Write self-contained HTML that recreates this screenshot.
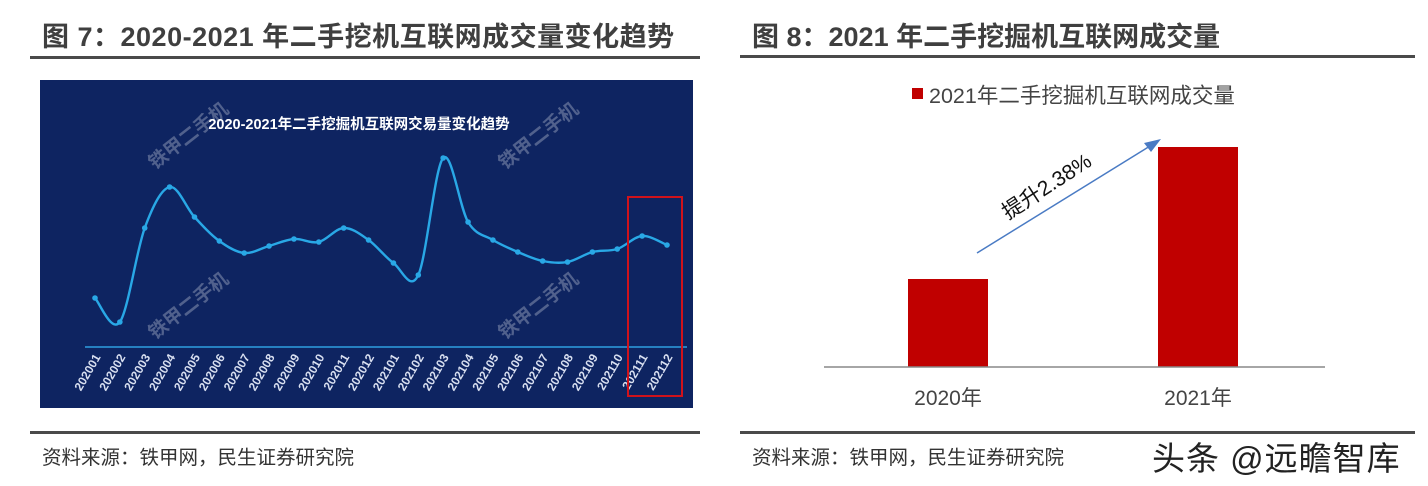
<!DOCTYPE html>
<html><head><meta charset="utf-8"><style>
body{margin:0;width:1428px;height:486px;background:#fff;position:relative;overflow:hidden;font-family:"Liberation Sans","Noto Sans CJK SC",sans-serif}
.abs{position:absolute}
.title{font-weight:bold;font-size:27px;color:#3f3f3f;white-space:nowrap}
.rule{background:#4a4a4a;height:3px}
.src{font-size:19.5px;color:#333;white-space:nowrap}
</style></head><body>
<div class="abs title" style="left:42px;top:15px;letter-spacing:0.5px">图 7：2020-2021 年二手挖机互联网成交量变化趋势</div>
<div class="abs rule" style="left:30px;top:56px;width:670px"></div>
<div class="abs title" style="left:752px;top:15px">图 8：2021 年二手挖掘机互联网成交量</div>
<div class="abs rule" style="left:740px;top:55px;width:675px"></div>
<div class="abs rule" style="left:30px;top:431px;width:670px"></div>
<div class="abs rule" style="left:740px;top:431px;width:675px"></div>
<div class="abs src" style="left:42px;top:441px">资料来源：铁甲网，民生证券研究院</div>
<div class="abs src" style="left:752px;top:441px">资料来源：铁甲网，民生证券研究院</div>
<div class="abs" style="left:1152px;top:432px;font-size:33px;letter-spacing:1px;color:#222;white-space:nowrap">头条 @远瞻智库</div>

<svg class="abs" style="left:0;top:0" width="1428" height="486">
<rect x="40" y="80" width="653" height="328" fill="#0e2461"/>
<text x="359" y="129" fill="#fff" font-size="14.5" font-weight="bold" text-anchor="middle">2020-2021年二手挖掘机互联网交易量变化趋势</text>
<g fill="#fff" fill-opacity="0.28" font-size="19" font-weight="bold">
<text transform="translate(155,170) rotate(-38)">铁甲二手机</text>
<text transform="translate(505,170) rotate(-38)">铁甲二手机</text>
<text transform="translate(155,340) rotate(-38)">铁甲二手机</text>
<text transform="translate(505,340) rotate(-38)">铁甲二手机</text>
</g>
<line x1="85" y1="347" x2="687" y2="347" stroke="#2f9fe0" stroke-width="1.5"/>
<g id="lineg"></g>
<g id="xlab"></g>
<rect x="628" y="197" width="54" height="199" fill="none" stroke="#d0121b" stroke-width="2"/>

<rect x="912" y="88" width="11" height="11" fill="#c00000"/>
<text x="929" y="103" font-size="21.5" fill="#444">2021年二手挖掘机互联网成交量</text>
<g id="barg"></g>
<line x1="824" y1="367" x2="1325" y2="367" stroke="#888" stroke-width="1.5"/>
<line x1="977" y1="253" x2="1150" y2="146" stroke="#4a7bc4" stroke-width="1.5"/>
<polygon points="1161,139 1144,143 1151,152" fill="#4a7bc4"/>
<text transform="translate(1008,220) rotate(-33)" font-size="21" fill="#111">提升2.38%</text>
</svg>
<script>
const months=['202001','202002','202003','202004','202005','202006','202007','202008','202009','202010','202011','202012','202101','202102','202103','202104','202105','202106','202107','202108','202109','202110','202111','202112'];
const volumes=[49,25,119,160,130,106,94,101,108,105,119,107,84,72,189,125,107,95,86,85,95,98,111,102];
const barCats=['2020年','2021年'];
const barVals=[88,220];
const NS='http://www.w3.org/2000/svg';
function mk(t,a){const e=document.createElementNS(NS,t);for(const k in a)e.setAttribute(k,a[k]);return e;}
const lx=i=>95+i*(667-95)/(months.length-1);
const ly=v=>347-v;
const pts=volumes.map((v,i)=>[lx(i),ly(v)]);
let d='M'+pts[0][0]+','+pts[0][1];
for(let i=0;i<pts.length-1;i++){const p0=pts[Math.max(i-1,0)],p1=pts[i],p2=pts[i+1],p3=pts[Math.min(i+2,pts.length-1)];
d+=' C'+(p1[0]+(p2[0]-p0[0])/6)+','+(p1[1]+(p2[1]-p0[1])/6)+' '+(p2[0]-(p3[0]-p1[0])/6)+','+(p2[1]-(p3[1]-p1[1])/6)+' '+p2[0]+','+p2[1];}
const lg=document.getElementById('lineg');
const path=mk('path',{d:d,fill:'none',stroke:'#29a8e6','stroke-width':2.4});


lg.appendChild(path);
const xg=document.getElementById('xlab');
pts.forEach((p,i)=>{const c=mk('circle',{cx:p[0],cy:p[1],r:2.8,fill:'#29a8e6'});


lg.appendChild(c);
const t=mk('text',{transform:'translate('+(p[0]+6)+',357) rotate(-60)','text-anchor':'end','font-size':'12','font-weight':'bold',fill:'#d8dff0'});
t.textContent=months[i];


xg.appendChild(t);});
const bg=document.getElementById('barg');
const bx=i=>948+i*250;
const by=v=>367-v;
barCats.forEach((c,i)=>{const r=mk('rect',{x:bx(i)-40,y:by(barVals[i]),width:80,height:367-by(barVals[i]),fill:'#c00000'});


bg.appendChild(r);
const t=mk('text',{x:bx(i),y:405,'text-anchor':'middle','font-size':'21',fill:'#444'});
t.textContent=c;


bg.appendChild(t);});
</script>
</body></html>
